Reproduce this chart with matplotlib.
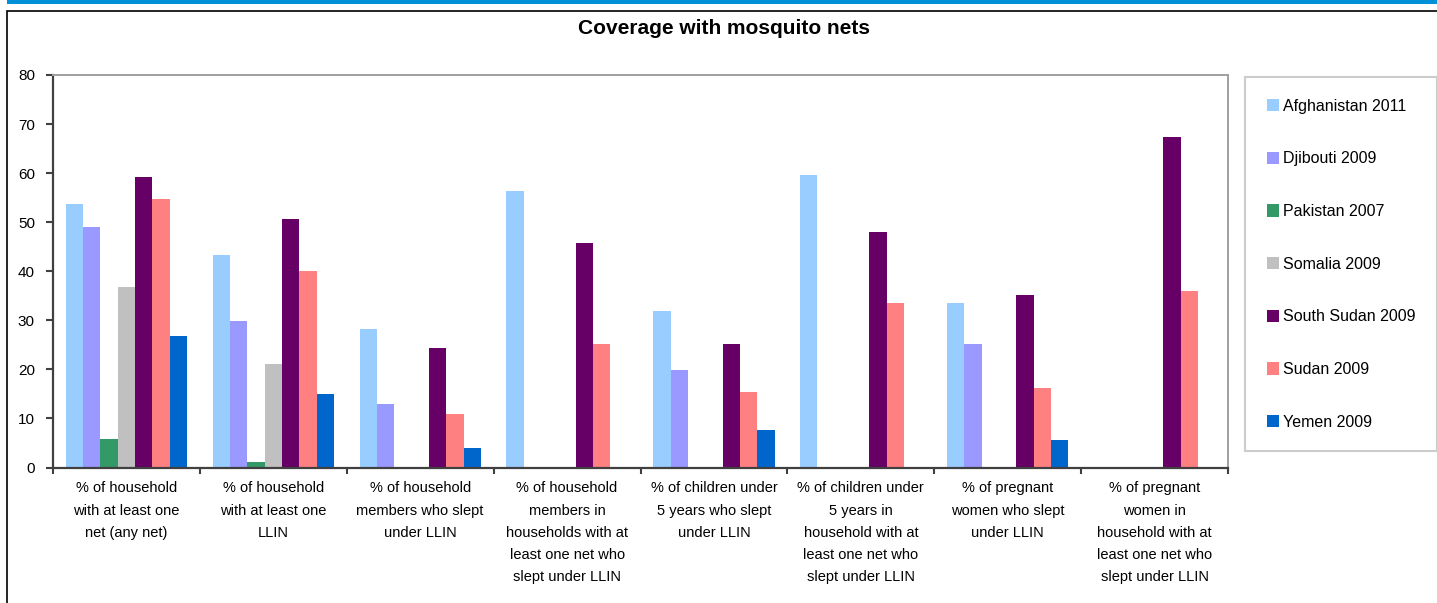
import numpy as np
import matplotlib
matplotlib.use("Agg")
import matplotlib.pyplot as plt
from matplotlib.patches import Rectangle, Patch

plt.rcParams['font.family'] = ['Liberation Sans Narrow', 'Liberation Sans', 'DejaVu Sans']

categories = [
    "% of household\nwith at least one\nnet (any net)",
    "% of household\nwith at least one\nLLIN",
    "% of household\nmembers who slept\nunder LLIN",
    "% of household\nmembers in\nhouseholds with at\nleast one net who\nslept under LLIN",
    "% of children under\n5 years who slept\nunder LLIN",
    "% of children under\n5 years in\nhousehold with at\nleast one net who\nslept under LLIN",
    "% of pregnant\nwomen who slept\nunder LLIN",
    "% of pregnant\nwomen in\nhousehold with at\nleast one net who\nslept under LLIN",
]

nan = np.nan
afghanistan_2011 = [53.8, 43.3, 28.2, 56.3, 31.9, 59.6, 33.5, nan]
djibouti_2009 = [49.0, 29.8, 12.9, nan, 19.9, nan, 25.2, nan]
pakistan_2007 = [5.9, 1.1, nan, nan, nan, nan, nan, nan]
somalia_2009 = [36.8, 21.1, nan, nan, nan, nan, nan, nan]
south_sudan_2009 = [59.2, 50.6, 24.3, 45.7, 25.2, 47.9, 35.1, 67.4]
sudan_2009 = [54.7, 40.0, 10.9, 25.2, 15.4, 33.5, 16.2, 36.0]
yemen_2009 = [26.9, 15.0, 3.9, nan, 7.6, nan, 5.6, nan]

series = [
    ("Afghanistan 2011", afghanistan_2011, "#99CCFF"),
    ("Djibouti 2009", djibouti_2009, "#9999FF"),
    ("Pakistan 2007", pakistan_2007, "#339966"),
    ("Somalia 2009", somalia_2009, "#C0C0C0"),
    ("South Sudan 2009", south_sudan_2009, "#660066"),
    ("Sudan 2009", sudan_2009, "#FF8080"),
    ("Yemen 2009", yemen_2009, "#0066CC"),
]

W, H = 1437, 603
fig = plt.figure(figsize=(W / 100, H / 100), dpi=100)

# blue band and black frame
fig.patches.append(Rectangle((7 / W, 1 - 4 / H), 1, 4 / H, transform=fig.transFigure,
                             facecolor="#0090D8", edgecolor="none"))
fig.patches.append(Rectangle((7 / W, -0.1), 1.2, 1.1 - 11 / H, transform=fig.transFigure,
                             facecolor="none", edgecolor="black", linewidth=1.2))

left, right, top, bottom = 53, 1228, 75, 467.5
ax = fig.add_axes([left / W, 1 - bottom / H, (right - left) / W, (bottom - top) / H])

x = np.arange(len(categories))
bw = 0.118
n = len(series)
for i, (name, vals, col) in enumerate(series):
    ax.bar(x + (i - (n - 1) / 2) * bw, vals, width=bw, color=col, label=name)

ax.set_xlim(-0.5, len(categories) - 0.5)
ax.set_ylim(0, 80)
ax.set_yticks(range(0, 81, 10))
ax.set_xticks(x)
ax.set_xticklabels(categories, fontsize=10.5, linespacing=1.75, va="top")
ax.set_xticks(np.arange(-0.5, len(categories)), minor=True)
ax.tick_params(axis="x", which="major", length=0, pad=10)
ax.tick_params(axis="x", which="minor", length=4, width=1.5, color="#404040")
ax.tick_params(axis="y", length=5, width=1.5, color="#404040", pad=8)
for lab in ax.get_yticklabels():
    lab.set_fontfamily(['Liberation Sans', 'DejaVu Sans'])
    lab.set_fontsize(11)

for s in ("left", "bottom"):
    ax.spines[s].set_color("#404040")
    ax.spines[s].set_linewidth(1.6)
for s in ("top", "right"):
    ax.spines[s].set_color("#A0A0A0")
    ax.spines[s].set_linewidth(1.4)

fig.text(724 / W, 1 - 29 / H, "Coverage with mosquito nets", ha="center", va="center",
         fontsize=15, fontweight="bold", family=['Liberation Sans', 'DejaVu Sans'])

handles = [Patch(facecolor=c, edgecolor="none", label=nm) for nm, _, c in series]
leg = fig.legend(handles=handles, loc="upper left", bbox_to_anchor=(1245 / W, 1 - 77 / H),
                 frameon=True, fancybox=False, edgecolor="#C0C0C0",
                 prop={'family': ['Liberation Sans', 'DejaVu Sans'], 'size': 11.5},
                 handlelength=0.8, handleheight=0.8, handletextpad=0.2,
                 labelspacing=2.36, borderpad=1.35, borderaxespad=0)
leg.get_frame().set_linewidth(1.5)

fig.savefig("out.png", dpi=100)
